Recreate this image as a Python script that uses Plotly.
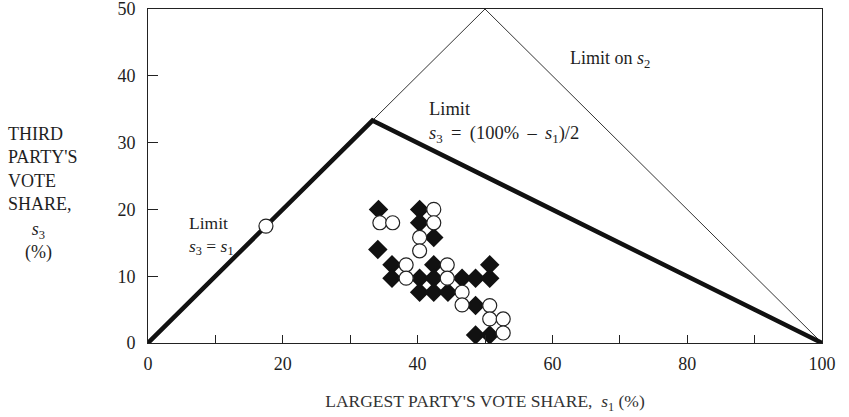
import plotly.graph_objects as go

# Boundary lines of the feasible region (s1 = largest share, s3 = third share)
limit_thick_x = [0, 33.3, 100]
limit_thick_y = [0, 33.3, 0]
limit_s2_x = [33.3, 50, 100]
limit_s2_y = [33.3, 50, 0]

# Observed elections: filled diamonds
diamond_x = [34.2, 34.1, 36.2, 36.2, 40.3, 40.3, 42.4, 42.4, 40.3, 42.4,
             40.3, 42.4, 44.5, 46.6, 48.6, 50.7, 50.7, 48.6, 48.6, 50.7]
diamond_y = [20.0, 14.0, 11.7, 9.7, 20.0, 18.0, 15.8, 11.7, 9.7, 9.7,
             7.6, 7.6, 7.6, 9.7, 9.7, 9.7, 11.7, 5.6, 1.2, 1.2]

# Observed elections: open circles
circle_x = [17.5, 42.4, 42.4, 34.4, 36.3, 40.3, 40.3, 38.3, 38.3, 44.4,
            44.4, 46.6, 46.6, 50.7, 50.7, 52.7, 52.7]
circle_y = [17.5, 20.0, 18.0, 18.0, 18.0, 15.8, 13.8, 11.7, 9.7, 11.7,
            9.7, 7.6, 5.7, 5.6, 3.6, 3.6, 1.5]

x_ticks = [0, 20, 40, 60, 80, 100]
y_ticks = [0, 10, 20, 30, 40, 50]

FONT = "Liberation Serif"
INK = "#1e1e1e"

L, R, T, B = 148, 27, 9, 74
W, H = 849, 417
PW, PH = W - L - R, H - T - B


def px_x(px):
    return (px - L) / PW


def px_y(py):
    return (H - B - py) / PH


fig = go.Figure()
fig.add_trace(go.Scatter(x=limit_s2_x, y=limit_s2_y, mode="lines",
                         line=dict(color="#333", width=1), hoverinfo="skip"))
fig.add_trace(go.Scatter(x=limit_thick_x, y=limit_thick_y, mode="lines",
                         line=dict(color="#111", width=4.5), hoverinfo="skip"))
fig.add_trace(go.Scatter(x=diamond_x, y=diamond_y, mode="markers",
                         marker=dict(symbol="diamond", size=15, color="#111",
                                     line=dict(width=0))))
fig.add_trace(go.Scatter(x=circle_x, y=circle_y, mode="markers",
                         marker=dict(symbol="circle", size=14, color="white",
                                     line=dict(color="#222", width=1.2))))

ann_font = dict(family=FONT, size=18, color=INK)
fig.add_annotation(x=5.8, y=16.1, xref="x", yref="y", xanchor="left", yanchor="middle",
                   align="left", showarrow=False, font=dict(family=FONT, size=17.5, color=INK),
                   text="Limit<br><i>s</i><sub>3</sub> = <i>s</i><sub>1</sub>")
fig.add_annotation(x=41.4, y=33.0, xref="x", yref="y", xanchor="left", yanchor="middle",
                   align="left", showarrow=False, font=dict(family=FONT, size=18.5, color=INK),
                   text="Limit<br><i>s</i><sub>3</sub>\u2009 =\u2009 (100%\u2009 \u2013\u2009 <i>s</i><sub>1</sub>)/2")
fig.add_annotation(x=62.3, y=42.4, xref="x", yref="y", xanchor="left", yanchor="middle",
                   align="left", showarrow=False, font=ann_font,
                   text="Limit on <i>s</i><sub>2</sub>")

# Stacked y-axis title on the left: words flush left, symbol and unit centred below
fig.add_annotation(x=px_x(6), y=px_y(169), xref="paper", yref="paper",
                   xanchor="left", yanchor="middle",
                   showarrow=False, font=dict(family=FONT, size=18, color=INK),
                   align="left",
                   text="THIRD<br>PARTY'S<br>VOTE<br>SHARE,")
fig.add_annotation(x=px_x(38), y=px_y(241), xref="paper", yref="paper",
                   xanchor="center", yanchor="middle",
                   showarrow=False, font=dict(family=FONT, size=18, color=INK),
                   align="center",
                   text="<i>s</i><sub>3</sub><br>(%)")

fig.update_layout(
    width=W, height=H,
    margin=dict(l=L, r=R, t=T, b=B, autoexpand=False),
    paper_bgcolor="white", plot_bgcolor="white",
    showlegend=False,
    font=dict(family=FONT, size=18, color=INK),
    xaxis=dict(range=[0, 100], tickvals=x_ticks, ticks="inside", ticklen=8,
               tickcolor="#222", showgrid=False, zeroline=False,
               showline=True, mirror=True, linecolor="#222", linewidth=1,
               ticklabelstandoff=4, ticklabeloverflow="allow", automargin=False,
               minor=dict(dtick=10, tick0=0, ticks="inside", ticklen=8, tickcolor="#222"),
               title=dict(text="LARGEST PARTY'S VOTE SHARE,  <i>s</i><sub>1</sub> (%)",
                          font=dict(family=FONT, size=17.5, color="#333"), standoff=22)),
    yaxis=dict(range=[0, 50], tickvals=y_ticks, ticks="inside", ticklen=10,
               tickcolor="#222", showgrid=False, zeroline=False,
               showline=True, mirror=True, linecolor="#222", linewidth=1,
               ticklabelstandoff=8, ticklabeloverflow="allow", automargin=False),
)

fig.write_html("out.html")
